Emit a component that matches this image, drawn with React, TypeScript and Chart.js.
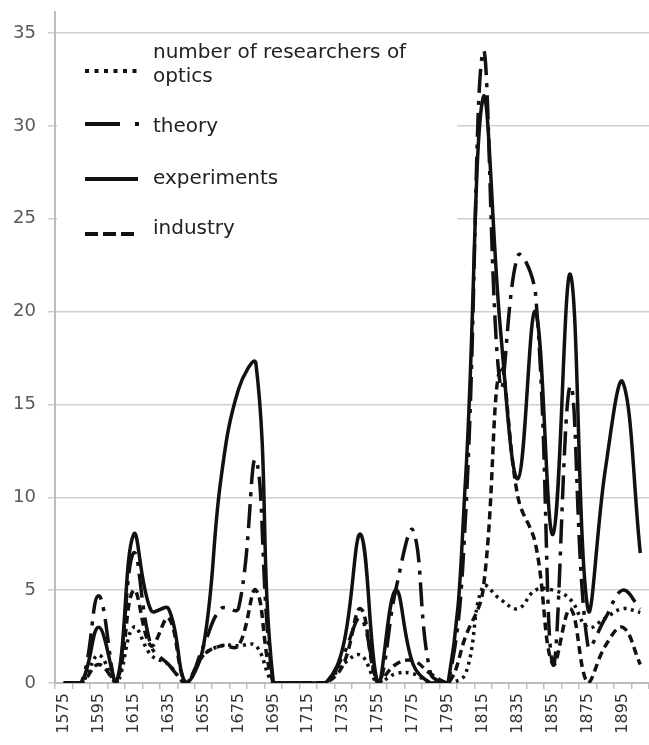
import React, { useEffect, useRef } from "react";
import { Chart, registerables } from "chart.js";

Chart.register(...registerables);

const years = [
  "1575", "1585", "1595", "1605", "1615", "1625", "1635", "1645", "1655", "1665",
  "1675", "1685", "1695", "1705", "1715", "1725", "1735", "1745", "1755", "1765",
  "1775", "1785", "1795", "1805", "1815", "1825", "1835", "1845", "1855", "1865",
  "1875", "1885", "1895", "1905",
];

const seriesNames = ["number of researchers of optics", "theory", "experiments", "industry"];

const optics = [0, 0, 1.5, 0, 3, 1.5, 1, 0, 1.5, 2, 2, 2, 0, 0, 0, 0, 1, 1.5, 0, 0.5, 0.5, 0, 0, 0.5, 5.2, 4.5, 4, 5, 5, 4.5, 3, 3.5, 4, 3.8];
const theory = [0, 0, 4.7, 0, 7, 2, 1, 0, 2, 4, 4, 12, 0, 0, 0, 0, 1.5, 3.5, 0, 5, 8.2, 0.5, 0, 9, 34, 16, 23, 21, 1, 16, 2, 3.5, 5, 4];
const experiments = [0, 0, 3, 0, 8, 3.9, 4, 0, 2, 11, 15.8, 17.2, 0, 0, 0, 0, 2, 8, 0, 5, 1, 0, 0, 11, 31.5, 19, 11, 20, 8, 22, 4, 11.5, 16.2, 7];
const industry = [0, 0, 1, 0, 5, 2, 3.5, 0, 1.5, 2, 2, 5, 0, 0, 0, 0, 1, 4, 0, 1, 1.2, 0.5, 0, 2.5, 5, 17, 10, 7.5, 1, 4, 0, 2, 3, 1];

const yTicks = [0, 5, 10, 15, 20, 25, 30, 35];

const INK = "#111";

const legendPlugin = {
  id: "boxLegend",
  beforeDatasetsDraw(chart: any) {
    const ctx = chart.ctx;
    const left = chart.chartArea.left;
    ctx.save();
    ctx.fillStyle = "#ffffff";
    ctx.fillRect(left + 2, 35, 400, 213);

    ctx.strokeStyle = INK;
    ctx.lineWidth = 4;
    ctx.lineCap = "butt";
    const sample = (y: number, dash: number[], x1: number, x2: number) => {
      ctx.setLineDash(dash);
      ctx.beginPath();
      ctx.moveTo(x1, y);
      ctx.lineTo(x2, y);
      ctx.stroke();
    };
    sample(71, [4, 5.5], 85, 138);
    sample(124, [35, 15, 4, 100], 85, 140);
    sample(179, [], 85, 138);
    sample(234, [13, 5], 85, 137);
    ctx.setLineDash([]);

    ctx.fillStyle = "#222";
    ctx.font = '20px "DejaVu Sans"';
    ctx.textBaseline = "middle";
    ctx.textAlign = "left";
    const words = seriesNames[0].split(" ");
    ctx.fillText(words.slice(0, 4).join(" "), 153, 53);
    ctx.fillText(words.slice(4).join(" "), 153, 77);
    ctx.fillText(seriesNames[1], 153, 127);
    ctx.fillText(seriesNames[2], 153, 179);
    ctx.fillText(seriesNames[3], 153, 229);
    ctx.restore();
  },
};

export default function App() {
  const ref = useRef<HTMLCanvasElement>(null);

  useEffect(() => {
    if (!ref.current) return;
    const pxPerUnit = (683 - 33) / 35;
    const yMax = (683 - 12) / pxPerUnit;
    const common = {
      borderColor: INK,
      borderWidth: 3.5,
      pointRadius: 0,
      fill: false,
      tension: 0.4,
    };
    const chart = new Chart(ref.current, {
      type: "line",
      data: {
        labels: years,
        datasets: [
          { ...common, label: seriesNames[0], data: optics, borderDash: [3, 4.5] },
          { ...common, label: seriesNames[1], data: theory, borderDash: [24, 8, 4, 8] },
          { ...common, label: seriesNames[2], data: experiments },
          { ...common, label: seriesNames[3], data: industry, borderDash: [8, 5] },
        ],
      },
      options: {
        responsive: false,
        animation: false,
        layout: { padding: { top: 12, left: 0, right: 0, bottom: 0 } },
        plugins: {
          legend: { display: false },
          tooltip: { enabled: false },
        },
        scales: {
          x: {
            type: "category",
            offset: true,
            afterFit: (s: any) => {
              s.height = 62;
              s.paddingLeft = 0;
              s.paddingRight = 0;
            },
            grid: {
              drawOnChartArea: false,
              drawTicks: true,
              tickLength: 6,
              color: "#c0c0c0",
              lineWidth: 1.5,
              offset: true,
            },
            border: { color: "#bdbdbd", width: 2 },
            ticks: {
              autoSkip: false,
              maxRotation: 90,
              minRotation: 90,
              padding: 4,
              color: "#333",
              font: { family: "DejaVu Sans", size: 16 },
              callback: (_v: any, i: number) => (i % 2 === 0 ? years[i] : ""),
            },
          },
          y: {
            min: 0,
            max: yMax,
            afterFit: (s: any) => {
              s.width = 55;
              s.paddingTop = 0;
              s.paddingBottom = 0;
            },
            afterBuildTicks: (s: any) => {
              s.ticks = yTicks.map((v) => ({ value: v }));
            },
            grid: {
              color: "#cfcfcf",
              lineWidth: 1.5,
              tickLength: 7,
            },
            border: { color: "#bdbdbd", width: 2 },
            ticks: {
              stepSize: 5,
              padding: 12,
              color: "#595959",
              font: { family: "DejaVu Sans", size: 18 },
            },
          },
        },
      },
      plugins: [legendPlugin],
    });
    return () => chart.destroy();
  }, []);

  return (
    <div style={{ position: "fixed", left: 0, top: 0, width: 649, height: 745, background: "#fff" }}>
      <canvas ref={ref} width={649} height={745} />
    </div>
  );
}
